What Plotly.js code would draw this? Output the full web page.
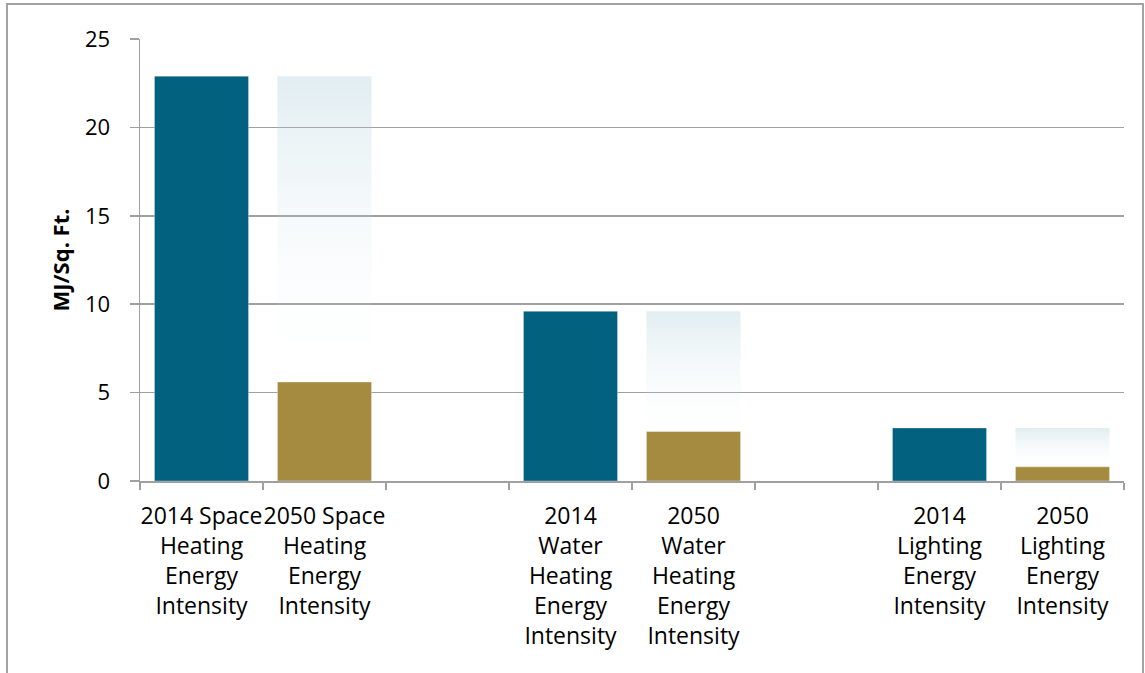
<!DOCTYPE html>
<html><head><meta charset="utf-8">
<script src="https://cdn.plot.ly/plotly-3.0.1.min.js"></script>
<style>
html,body{margin:0;padding:0;background:#fff;overflow:hidden;}
#frame{position:absolute;left:6px;top:3px;width:1138px;height:720px;border:2px solid #a3a3a3;box-sizing:border-box;}
#chart{position:absolute;left:0;top:0;width:1145px;height:673px;}
</style></head><body>
<div id="frame"></div><div id="chart"></div>
<script>
// ---- data ----
const categories = [
  "2014 Space<br>Heating<br>Energy<br>Intensity",
  "2050 Space<br>Heating<br>Energy<br>Intensity",
  "",
  "2014<br>Water<br>Heating<br>Energy<br>Intensity",
  "2050<br>Water<br>Heating<br>Energy<br>Intensity",
  "",
  "2014<br>Lighting<br>Energy<br>Intensity",
  "2050<br>Lighting<br>Energy<br>Intensity"
];
const groups = ["Space Heating", "Water Heating", "Lighting"];
const values2014 = [22.9, 9.6, 3.0];
const values2050 = [5.6, 2.8, 0.8];
const yTicks = [0, 5, 10, 15, 20, 25];

// ---- derived positions on the category axis ----
const pos2014 = groups.map((g, i) => categories.indexOf(categories.filter(c => c.startsWith("2014"))[i]));
const pos2050 = groups.map((g, i) => categories.indexOf(categories.filter(c => c.startsWith("2050"))[i]));
const labelPos = categories.map((c, i) => i).filter(i => categories[i] !== "");
const labelText = labelPos.map(i => categories[i]);
const boundaries = categories.map((c, i) => i - 0.5).concat([categories.length - 0.5]);

const BAR_W = 0.765;
const TEAL = "#02617f";
const GOLD = "#a48b3f";
const GRID = "#a0a0a0";
const FONT = "Open Sans";

const traces = [];
// ghost (gradient) bars showing 2014 level behind 2050 bars
groups.forEach((g, i) => {
  const p = pos2050[i], v = values2014[i], h = BAR_W / 2;
  traces.push({
    type: "scatter", mode: "lines",
    x: [p - h, p + h, p + h, p - h, p - h],
    y: [0, 0, v, v, 0],
    line: {width: 0, color: "rgba(0,0,0,0)"},
    fill: "toself",
    fillcolor: "rgba(200,215,225,0.3)",
    fillgradient: {
      type: "vertical",
      colorscale: [[0, "rgba(255,255,255,0)"], [0.2, "rgba(255,255,255,0)"], [1, "rgba(145,190,206,0.27)"]]
    },
    hoverinfo: "skip", showlegend: false, xaxis: "x", yaxis: "y"
  });
});
traces.push({
  type: "bar", x: pos2014, y: values2014, width: BAR_W,
  marker: {color: TEAL, line: {color: "rgba(255,255,255,0.35)", width: 1}},
  xaxis: "x2", yaxis: "y2", showlegend: false
});
traces.push({
  type: "bar", x: pos2050, y: values2050, width: BAR_W,
  marker: {color: GOLD, line: {color: "rgba(255,255,255,0.35)", width: 1}},
  xaxis: "x2", yaxis: "y2", showlegend: false
});

const xr = [-0.5, categories.length - 0.5];
const yr = [yTicks[0], yTicks[yTicks.length - 1]];

const layout = {
  width: 1145, height: 673,
  margin: {l: 140, r: 21, t: 39, b: 192, pad: 0},
  paper_bgcolor: "rgba(0,0,0,0)", plot_bgcolor: "rgba(0,0,0,0)",
  showlegend: false,
  font: {family: FONT, color: "#000"},
  xaxis: {
    range: xr, tickmode: "array", tickvals: labelPos, ticktext: labelText,
    tickangle: 0,
    ticks: "", showline: true, linecolor: GRID, linewidth: 1.5,
    showgrid: false, zeroline: false,
    tickfont: {family: FONT, size: 23, color: "#000"},
    ticklabelstandoff: 14,
    minor: {tickmode: "array", tickvals: boundaries, ticks: "outside", ticklen: 7, tickcolor: GRID, tickwidth: 1.5, showgrid: false},
    fixedrange: true
  },
  yaxis: {
    range: yr, tickmode: "array", tickvals: yTicks,
    ticks: "outside", ticklen: 9, tickwidth: 1.5, tickcolor: GRID,
    showline: true, linecolor: GRID, linewidth: 1.5,
    showgrid: true, gridcolor: GRID, gridwidth: 1.5, zeroline: false,
    tickfont: {family: FONT, size: 22, color: "#000"},
    ticklabelstandoff: 15,
    title: {text: "<b>MJ/Sq. Ft.</b>", font: {family: FONT, size: 22, color: "#000"}, standoff: 9},
    fixedrange: true
  },
  xaxis2: {overlaying: "x", anchor: "y2", range: xr, visible: false, fixedrange: true},
  yaxis2: {overlaying: "y", anchor: "x2", range: yr, visible: false, fixedrange: true}
};

Plotly.newPlot("chart", traces, layout, {staticPlot: true, displayModeBar: false});
</script>
</body></html>
